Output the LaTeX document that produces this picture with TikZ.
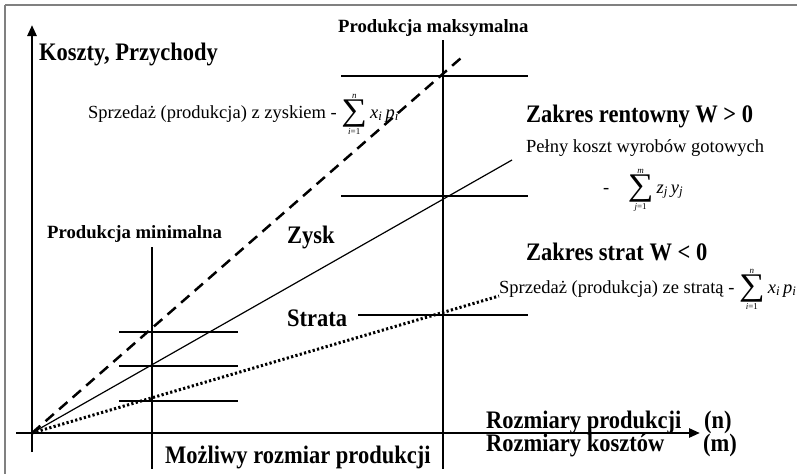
\documentclass[tikz,border=0pt]{standalone}
\usepackage{graphicx}
\usepackage{fontspec}
\setmainfont{Liberation Serif}
\usetikzlibrary{arrows.meta}
% tall bold lettering
\newcommand{\tallbf}[1]{\scalebox{1}[1.12]{#1}}
% text-font summation sign with small limits
\newcommand{\bigsigma}{\vcenter{\hbox{\scalebox{1.2}[1.05]{\fontsize{30}{30}\selectfont ∑}}}}
\newcommand{\smallsum}[2]{\ensuremath{\mathop{\bigsigma}\limits_{\hbox{\fontsize{9}{9}\selectfont #1}}^{\hbox{\fontsize{9}{9}\selectfont #2}}}\,}
\newcommand{\var}[2]{\textit{#1}\textsubscript{\textit{#2}}}
\tikzset{
  frameline/.style={draw=black!50, line width=2pt},
  axisline/.style={line width=2.6pt, -{Triangle[length=11pt,width=9pt]}},
  guide/.style={line width=1.3pt},
  levelline/.style={line width=1.6pt},
  costline/.style={line width=1.2pt},
  profitline/.style={line width=2.5pt, dash pattern=on 11pt off 7pt},
  lossline/.style={line width=3pt, dash pattern=on 2.2pt off 2.3pt},
  bigtxt/.style={font=\fontsize{22.5}{26}\selectfont\bfseries, inner sep=0pt, anchor=base west},
  midtxt/.style={font=\fontsize{18.7}{22}\selectfont\bfseries, inner sep=0pt, anchor=base west},
  plaintxt/.style={font=\fontsize{18.5}{22}\selectfont, inner sep=0pt, anchor=base west},
}
\begin{document}
\begin{tikzpicture}[x=1pt,y=-1pt]
\useasboundingbox (0,0) rectangle (797,474);

% frame: top and left edges only
\draw[frameline] (5,5) -- (797,5);
\draw[frameline] (5,5) -- (5,474);

% key points
\coordinate (O) at (32,433);
\coordinate (ytop) at (32,25);
\coordinate (ybot) at (32,452);
\coordinate (xleft) at (16,433);
\coordinate (xright) at (700,433);

% minimal / maximal production verticals
\draw[guide] (152,247) -- (152,469);
\draw[guide, line width=1.8pt] (443,40) -- (443,469);

% level lines at minimal production
\draw[levelline] (119,332) -- (238,332);
\draw[levelline] (119,366) -- (238,366);
\draw[levelline] (119,401) -- (238,401);

% level lines at maximal production
\draw[levelline] (341,76) -- (528,76);
\draw[levelline] (341,196) -- (528,196);
\draw[levelline] (358,315) -- (528,315);

% texts
\node[bigtxt] (yl) at (39,60) {\tallbf{Koszty, Przychody}};
\node[midtxt] (pmax) at (338,32) {Produkcja maksymalna};
\node[midtxt] (pmin) at (47,238) {Produkcja minimalna};
\node[plaintxt] (gain) at (88,118) {Sprzedaż (produkcja) z zyskiem - \smallsum{\textit{i}=1}{\textit{n}}\var{x}{i}\,\var{p}{i}};
\node[bigtxt] (zr) at (526,122) {\tallbf{Zakres rentowny W > 0}};
\node[plaintxt] (pk) at (526,152) {Pełny koszt wyrobów gotowych};
\node[plaintxt] (pks) at (603,193) {-\quad\smallsum{\textit{j}=1}{\textit{m}}\var{z}{j}\,\var{y}{j}};
\node[bigtxt] (zysk) at (287,243) {\tallbf{Zysk}};
\node[bigtxt] (zs) at (526,260) {\tallbf{Zakres strat W < 0}};
\node[plaintxt] (loss) at (499,293) {Sprzedaż (produkcja) ze stratą - \smallsum{\textit{i}=1}{\textit{n}}\var{x}{i}\,\var{p}{i}};
\node[bigtxt] (strata) at (287,326) {\tallbf{Strata}};
\node[bigtxt] (rp) at (486,428) {\tallbf{Rozmiary produkcji}};
\node[bigtxt] (rn) at (704,428) {\tallbf{(n)}};
\node[bigtxt] (rk) at (486,451) {\tallbf{Rozmiary kosztów}};
\node[bigtxt] (rm) at (703,451) {\tallbf{(m)}};
\node[bigtxt] (mr) at (165,463) {\tallbf{Możliwy rozmiar produkcji}};

% revenue and cost lines from the origin
\draw[profitline] (O) -- (461,58);
\draw[costline] (O) -- (512,160);
\draw[lossline] (O) -- (loss.base west |- 0,296);

% axes
\draw[axisline] (ybot) -- (ytop);
\draw[axisline] (xleft) -- (xright);
\end{tikzpicture}
\end{document}
